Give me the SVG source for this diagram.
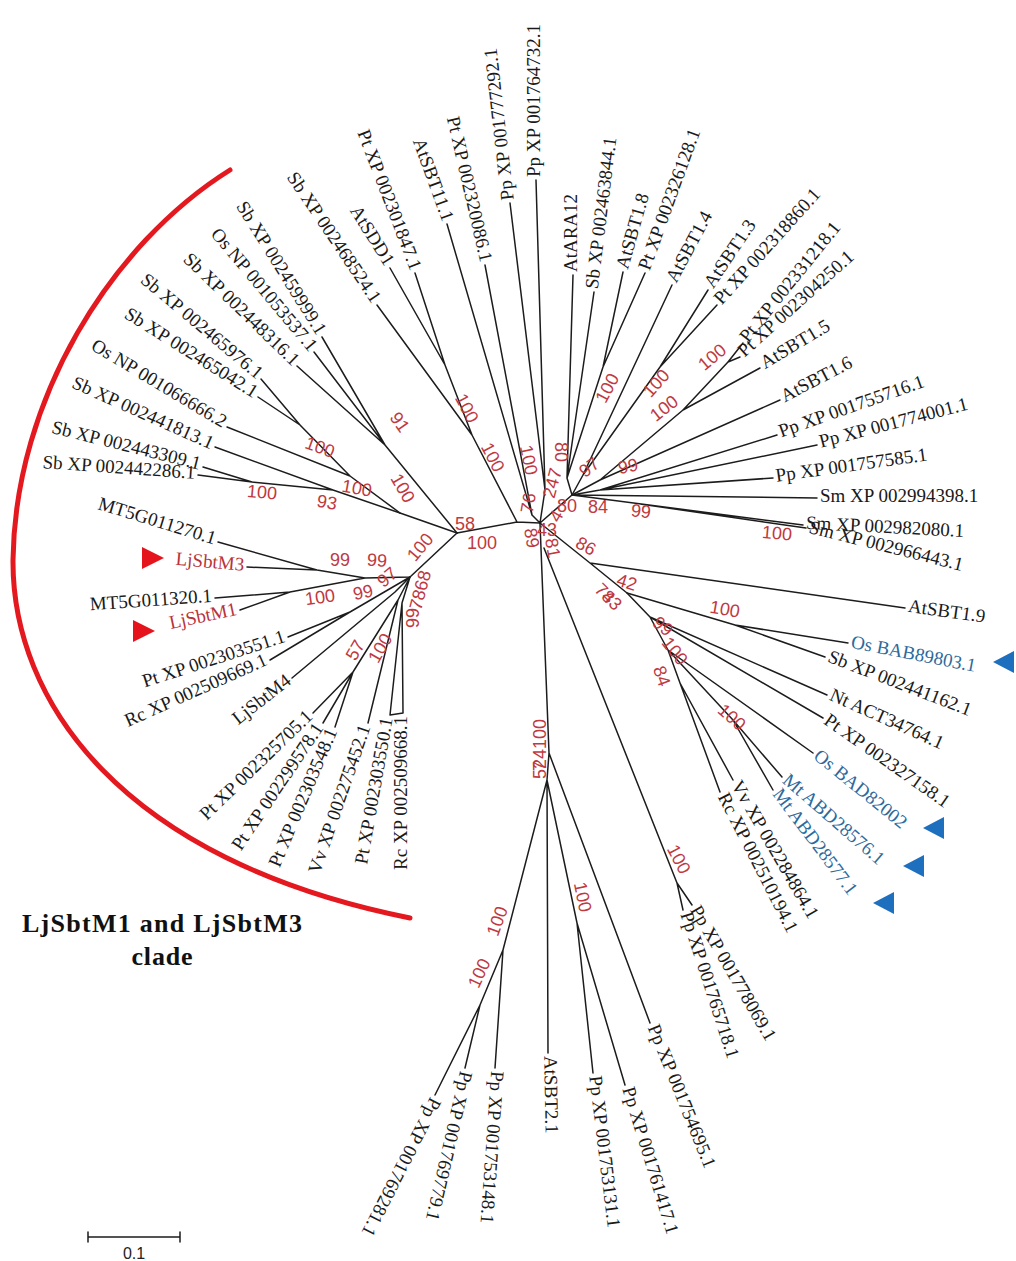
<svg xmlns="http://www.w3.org/2000/svg" width="1016" height="1261" viewBox="0 0 1016 1261">
<style>
.br{stroke:#1c1c1c;stroke-width:1.5;fill:none;stroke-linejoin:round;stroke-linecap:round}
.lb{font-family:"Liberation Serif","Times New Roman",serif;font-size:19px;fill:#1a1a1a}
.lr{fill:#b8333a}
.lbb{fill:#2d6a9c}
.bs{font-family:"Liberation Sans",Arial,sans-serif;font-size:18px;fill:#c0393f;text-anchor:middle}
.e{text-anchor:end}
.tri-r{fill:#e5141c}
.tri-b{fill:#1f6fbf}
.arc{stroke:#e3191f;stroke-width:5;fill:none;stroke-linecap:round}
.ttl{font-family:"Liberation Serif","Times New Roman",serif;font-size:26px;font-weight:bold;fill:#111;text-anchor:middle}
</style>
<rect width="1016" height="1261" fill="#fff"/>

<!-- clade bracket -->
<path class="arc" d="M230,170 C110,245 15,400 13,560 C12,700 120,860 410,918"/>
<text class="ttl" x="162" y="932" textLength="280" lengthAdjust="spacing">LjSbtM1 and LjSbtM3</text>
<text class="ttl" x="162" y="965" textLength="61" lengthAdjust="spacing">clade</text>

<!-- branches -->
<g id="connectors" class="br">
<path d="M457,533 L517,522 L540,523 M472,435 L517,522 M445,365 L472,435 M390,268 L445,365 M415,273 L445,365 M377,305 L472,435"/>
<path d="M447,224 L532,515 L540,523 M485,265 L532,515 M510,203 L545,490 L540,523 M536,180 L545,490"/>
<path d="M573,275 L567,478 L572,495 L540,523 M594,292 L567,478 M623,272 L603,367 L567,478 M645,273 L603,367"/>
<path d="M672,285 L583,475 L572,495 M708,290 L660,367 L583,475 M717,305 L660,367"/>
<path d="M743,343 L728,362 L683,410 L600,480 L572,495 M740,357 L728,362 M760,368 L683,410 M780,400 L600,480"/>
<path d="M777,435 L600,490 L572,495 M817,445 L600,490 M773,478 L600,490 M817,498 L572,495 M803,525 L572,495 M806,528 L640,504"/>
<path d="M540,523 L590,563 L905,608 M590,563 L627,593 L735,625 L848,643 M735,625 L825,657"/>
<path d="M627,593 L650,617 L827,695 M650,617 L823,718 M650,617 L668,650 L813,753 M668,650 L733,720 L782,777 M733,720 L773,790 M668,650 L680,683 L733,780 M680,683 L720,792"/>
<path d="M544,548 L677,883 L692,905 M677,883 L683,910"/>
<path d="M540,523 L549,753 L650,1023 M549,753 L547,780 L548,1053 M547,780 L503,950 L495,1068 M503,950 L480,1005 L435,1095 M480,1005 L465,1068 M547,780 L577,923 L593,1073 M577,923 L625,1085"/>
<path d="M457,533 L410,577 L365,578 L317,570 L218,542 M317,570 L247,567 M365,578 L290,592 L215,598 M290,592 L240,610"/>
<path d="M410,577 L350,612 L288,637 M350,612 L270,660 M410,577 L395,592 L292,678"/>
<path d="M410,577 L398,600 L353,672 L313,713 M353,672 L323,723 M353,672 L335,727 M398,600 L368,723 M410,577 L402,603 L390,715 L403,713 L402,603"/>
<path d="M457,533 L400,513 L333,490 L252,482 L198,475 M252,482 L203,467 M333,490 L215,447"/>
<path d="M400,513 L350,476 L227,427 M350,476 L300,425 L258,397 M300,425 L261,379"/>
<path d="M457,533 L385,445 L314,352 M385,445 L322,337 M385,445 L297,366"/>
</g>

<!-- leaves: upper left -->
<g id="sb442286"><text class="lb e" dy="0.2em" transform="translate(195,475) rotate(4)">Sb XP 002442286.1</text></g>
<g id="sb443309"><text class="lb e" dy="0.2em" transform="translate(200,466) rotate(14)">Sb XP 002443309.1</text></g>
<g id="sb441813"><text class="lb e" dy="0.2em" transform="translate(212,446) rotate(24)">Sb XP 002441813.1</text></g>
<g id="os066666"><text class="lb e" dy="0.2em" transform="translate(224,425) rotate(31)">Os NP 001066666.2</text></g>
<g id="sb465042"><text class="lb e" dy="0.2em" transform="translate(255,395) rotate(32)">Sb XP 002465042.1</text></g>
<g id="sb465976"><text class="lb e" dy="0.2em" transform="translate(259,377) rotate(40)">Sb XP 002465976.1</text></g>
<g id="sb448316"><text class="lb e" dy="0.2em" transform="translate(295,364) rotate(44)">Sb XP 002448316.1</text></g>
<g id="os053537"><text class="lb e" dy="0.2em" transform="translate(312,350) rotate(50)">Os NP 001053537.1</text></g>
<g id="sb459999"><text class="lb e" dy="0.2em" transform="translate(320,334) rotate(58)">Sb XP 002459999.1</text></g>
<g id="sb468524"><text class="lb e" dy="0.2em" transform="translate(375,302) rotate(56)">Sb XP 002468524.1</text></g>
<g id="atsdd1"><text class="lb e" dy="0.2em" transform="translate(388,265) rotate(58)">AtSDD1</text></g>
<g id="pt301847"><text class="lb e" dy="0.2em" transform="translate(414,270) rotate(69)">Pt XP 002301847.1</text></g>
<g id="atsbt11"><text class="lb e" dy="0.2em" transform="translate(446,221) rotate(70)">AtSBT11.1</text></g>
<g id="pt320086"><text class="lb e" dy="0.2em" transform="translate(484,262) rotate(77)">Pt XP 002320086.1</text></g>

<!-- leaves: upper right -->
<g id="pp777292"><text class="lb" dy="0.2em" transform="translate(510,200) rotate(-96.5)">Pp XP 001777292.1</text></g>
<g id="pp764732"><text class="lb" dy="0.2em" transform="translate(536,177) rotate(-90)">Pp XP 001764732.1</text></g>
<g id="atara12"><text class="lb" dy="0.2em" transform="translate(573,272) rotate(-90)">AtARA12</text></g>
<g id="sb463844"><text class="lb" dy="0.2em" transform="translate(594,289) rotate(-83)">Sb XP 002463844.1</text></g>
<g id="atsbt18"><text class="lb" dy="0.2em" transform="translate(624,269) rotate(-74)">AtSBT1.8</text></g>
<g id="pt326128"><text class="lb" dy="0.2em" transform="translate(646,270) rotate(-70)">Pt XP 002326128.1</text></g>
<g id="atsbt14"><text class="lb" dy="0.2em" transform="translate(673,282) rotate(-62)">AtSBT1.4</text></g>
<g id="atsbt13"><text class="lb" dy="0.2em" transform="translate(710,287) rotate(-56)">AtSBT1.3</text></g>
<g id="pt318860"><text class="lb" dy="0.2em" transform="translate(719,303) rotate(-48)">Pt XP 002318860.1</text></g>
<g id="pt331218"><text class="lb" dy="0.2em" transform="translate(745,341) rotate(-51)">Pt XP 002331218.1</text></g>
<g id="pt304250"><text class="lb" dy="0.2em" transform="translate(742,355) rotate(-42)">Pt XP 002304250.1</text></g>
<g id="atsbt15"><text class="lb" dy="0.2em" transform="translate(763,366) rotate(-31)">AtSBT1.5</text></g>
<g id="atsbt16"><text class="lb" dy="0.2em" transform="translate(783,399) rotate(-27.5)">AtSBT1.6</text></g>
<g id="pp755716"><text class="lb" dy="0.2em" transform="translate(780,434) rotate(-19.5)">Pp XP 001755716.1</text></g>
<g id="pp774001"><text class="lb" dy="0.2em" transform="translate(820,444) rotate(-14.5)">Pp XP 001774001.1</text></g>
<g id="pp757585"><text class="lb" dy="0.2em" transform="translate(776,478) rotate(-8)">Pp XP 001757585.1</text></g>
<g id="sm994398"><text class="lb" dy="0.2em" transform="translate(820,498) rotate(0)">Sm XP 002994398.1</text></g>
<g id="sm982080"><text class="lb" dy="0.2em" transform="translate(806,525) rotate(3)">Sm XP 002982080.1</text></g>
<g id="sm966443"><text class="lb" dy="0.2em" transform="translate(809,529) rotate(14)">Sm XP 002966443.1</text></g>

<!-- leaves: lower right -->
<g id="atsbt19"><text class="lb" dy="0.2em" transform="translate(908,608) rotate(8)">AtSBT1.9</text></g>
<g id="osbab89803"><text class="lb lbb" dy="0.2em" transform="translate(851,644) rotate(11)">Os BAB89803.1</text><polygon class="tri-b" points="1014,651 1014,673 993,662"/></g>
<g id="sb441162"><text class="lb" dy="0.2em" transform="translate(828,658) rotate(21)">Sb XP 002441162.1</text></g>
<g id="ntact34764"><text class="lb" dy="0.2em" transform="translate(830,696) rotate(24)">Nt ACT34764.1</text></g>
<g id="pt327158"><text class="lb" dy="0.2em" transform="translate(825,720) rotate(35)">Pt XP 002327158.1</text></g>
<g id="osbad82002"><text class="lb lbb" dy="0.2em" transform="translate(815,755) rotate(39)">Os BAD82002</text><polygon class="tri-b" points="944,817 944,839 923,828"/></g>
<g id="mtabd28576"><text class="lb lbb" dy="0.2em" transform="translate(784,779) rotate(41)">Mt ABD28576.1</text><polygon class="tri-b" points="924,855 924,877 903,866"/></g>
<g id="mtabd28577"><text class="lb lbb" dy="0.2em" transform="translate(775,792) rotate(53)">Mt ABD28577.1</text><polygon class="tri-b" points="894,892 894,914 873,903"/></g>
<g id="vv284864"><text class="lb" dy="0.2em" transform="translate(734,783) rotate(60)">Vv XP 002284864.1</text></g>
<g id="rc510194"><text class="lb" dy="0.2em" transform="translate(721,795) rotate(63)">Rc XP 002510194.1</text></g>
<g id="pp778069"><text class="lb" dy="0.2em" transform="translate(693,908) rotate(60)">Pp XP 001778069.1</text></g>
<g id="pp765718"><text class="lb" dy="0.2em" transform="translate(684,913) rotate(72)">Pp XP 001765718.1</text></g>

<!-- leaves: bottom -->
<g id="pp754695"><text class="lb" dy="0.2em" transform="translate(651,1026) rotate(68)">Pp XP 001754695.1</text></g>
<g id="pp761417"><text class="lb" dy="0.2em" transform="translate(626,1088) rotate(73)">Pp XP 001761417.1</text></g>
<g id="pp753131"><text class="lb" dy="0.2em" transform="translate(593,1076) rotate(83)">Pp XP 001753131.1</text></g>
<g id="atsbt21"><text class="lb" dy="0.2em" transform="translate(548,1056) rotate(89)">AtSBT2.1</text></g>
<g id="pp753148"><text class="lb" dy="0.2em" transform="translate(495,1071) rotate(94)">Pp XP 001753148.1</text></g>
<g id="pp769779"><text class="lb" dy="0.2em" transform="translate(464,1071) rotate(103)">Pp XP 001769779.1</text></g>
<g id="pp769281"><text class="lb" dy="0.2em" transform="translate(434,1098) rotate(117)">Pp XP 001769281.1</text></g>

<!-- leaves: LjSbtM clade -->
<g id="mt5g011270"><text class="lb e" dy="0.2em" transform="translate(215,541) rotate(17)">MT5G011270.1</text></g>
<g id="ljsbtm3"><text class="lb lr e" dy="0.2em" transform="translate(244,567) rotate(5)">LjSbtM3</text><polygon class="tri-r" points="142,547 142,569 164,558"/></g>
<g id="mt5g011320"><text class="lb e" dy="0.2em" transform="translate(212,598) rotate(-4)">MT5G011320.1</text></g>
<g id="ljsbtm1"><text class="lb lr e" dy="0.2em" transform="translate(237,611) rotate(-12)">LjSbtM1</text><polygon class="tri-r" points="133,620 133,642 155,631"/></g>
<g id="pt303551"><text class="lb e" dy="0.2em" transform="translate(285,638) rotate(-18)">Pt XP 002303551.1</text></g>
<g id="rc509669"><text class="lb e" dy="0.2em" transform="translate(267,661) rotate(-24)">Rc XP 002509669.1</text></g>
<g id="ljsbtm4"><text class="lb e" dy="0.2em" transform="translate(290,680) rotate(-38)">LjSbtM4</text></g>
<g id="pt325705"><text class="lb e" dy="0.2em" transform="translate(311,715) rotate(-44)">Pt XP 002325705.1</text></g>
<g id="pt299578"><text class="lb e" dy="0.2em" transform="translate(321,726) rotate(-56)">Pt XP 002299578.1</text></g>
<g id="pt303548"><text class="lb e" dy="0.2em" transform="translate(334,730) rotate(-67)">Pt XP 002303548.1</text></g>
<g id="vv275452"><text class="lb e" dy="0.2em" transform="translate(367,726) rotate(-71)">Vv XP 002275452.1</text></g>
<g id="pt303550"><text class="lb e" dy="0.2em" transform="translate(389,718) rotate(-80)">Pt XP 002303550.1</text></g>
<g id="rc509668"><text class="lb e" dy="0.2em" transform="translate(403,716) rotate(-90)">Rc XP 002509668.1</text></g>

<!-- bootstrap values -->
<g id="support" class="bs">
<text transform="translate(467,408) rotate(62)" dy="0.35em">100</text>
<text transform="translate(493,457) rotate(62)" dy="0.35em">100</text>
<text transform="translate(529,460) rotate(78)" dy="0.35em">100</text>
<text transform="translate(561,452) rotate(90)" dy="0.35em">80</text>
<text transform="translate(552,483) rotate(-75)" dy="0.35em">247</text>
<text transform="translate(607,388) rotate(-62)" dy="0.35em">100</text>
<text transform="translate(656,383) rotate(-48)" dy="0.35em">100</text>
<text transform="translate(664,408) rotate(-38)" dy="0.35em">100</text>
<text transform="translate(712,357) rotate(-40)" dy="0.35em">100</text>
<text transform="translate(589,467) rotate(-38)" dy="0.35em">97</text>
<text transform="translate(628,466) rotate(-12)" dy="0.35em">99</text>
<text transform="translate(598,507)" dy="0.35em">84</text>
<text transform="translate(567,506)" dy="0.35em">80</text>
<text transform="translate(556,516) rotate(-60)" dy="0.35em">4</text>
<text transform="translate(641,511) rotate(6)" dy="0.35em">99</text>
<text transform="translate(777,533) rotate(5)" dy="0.35em">100</text>
<text transform="translate(586,546) rotate(28)" dy="0.35em">86</text>
<text transform="translate(627,582) rotate(18)" dy="0.35em">42</text>
<text transform="translate(605,593) rotate(45)" dy="0.35em">78</text>
<text transform="translate(612,600) rotate(45)" dy="0.35em">43</text>
<text transform="translate(725,609) rotate(10)" dy="0.35em">100</text>
<text transform="translate(663,626) rotate(40)" dy="0.35em">99</text>
<text transform="translate(675,651) rotate(52)" dy="0.35em">100</text>
<text transform="translate(662,676) rotate(70)" dy="0.35em">84</text>
<text transform="translate(732,717) rotate(42)" dy="0.35em">100</text>
<text transform="translate(679,859) rotate(62)" dy="0.35em">100</text>
<text transform="translate(583,897) rotate(78)" dy="0.35em">100</text>
<text transform="translate(497,921) rotate(-70)" dy="0.35em">100</text>
<text transform="translate(479,973) rotate(-65)" dy="0.35em">100</text>
<text transform="translate(540,749) rotate(-90)" dy="0.35em">524100</text>
<text transform="translate(540,766) rotate(-90)" dy="0.35em">7</text>
<text transform="translate(465,524)" dy="0.35em">58</text>
<text transform="translate(482,543)" dy="0.35em">100</text>
<text transform="translate(528,503) rotate(-80)" dy="0.35em">76</text>
<text transform="translate(532,538) rotate(80)" dy="0.35em">89</text>
<text transform="translate(547,530)" dy="0.35em">43</text>
<text transform="translate(553,548) rotate(80)" dy="0.35em">81</text>
<text transform="translate(262,492) rotate(5)" dy="0.35em">100</text>
<text transform="translate(327,502) rotate(10)" dy="0.35em">93</text>
<text transform="translate(357,488) rotate(10)" dy="0.35em">100</text>
<text transform="translate(403,488) rotate(60)" dy="0.35em">100</text>
<text transform="translate(320,447) rotate(20)" dy="0.35em">100</text>
<text transform="translate(400,422) rotate(55)" dy="0.35em">91</text>
<text transform="translate(340,560)" dy="0.35em">99</text>
<text transform="translate(377,560) rotate(5)" dy="0.35em">99</text>
<text transform="translate(387,577) rotate(-40)" dy="0.35em">97</text>
<text transform="translate(420,547) rotate(-50)" dy="0.35em">100</text>
<text transform="translate(420,590) rotate(-75)" dy="0.35em">7868</text>
<text transform="translate(320,597) rotate(-8)" dy="0.35em">100</text>
<text transform="translate(363,592) rotate(-12)" dy="0.35em">99</text>
<text transform="translate(413,618) rotate(-90)" dy="0.35em">99</text>
<text transform="translate(355,650) rotate(-60)" dy="0.35em">57</text>
<text transform="translate(380,648) rotate(-60)" dy="0.35em">100</text>
</g>

<!-- scale bar -->
<g id="scale">
<path class="br" stroke-width="1.3" d="M88,1237 L180,1237 M88,1232 L88,1242 M180,1232 L180,1242"/>
<text x="134" y="1259" text-anchor="middle" style="font-family:'Liberation Sans',Arial,sans-serif;font-size:16px;fill:#222">0.1</text>
</g>
</svg>
